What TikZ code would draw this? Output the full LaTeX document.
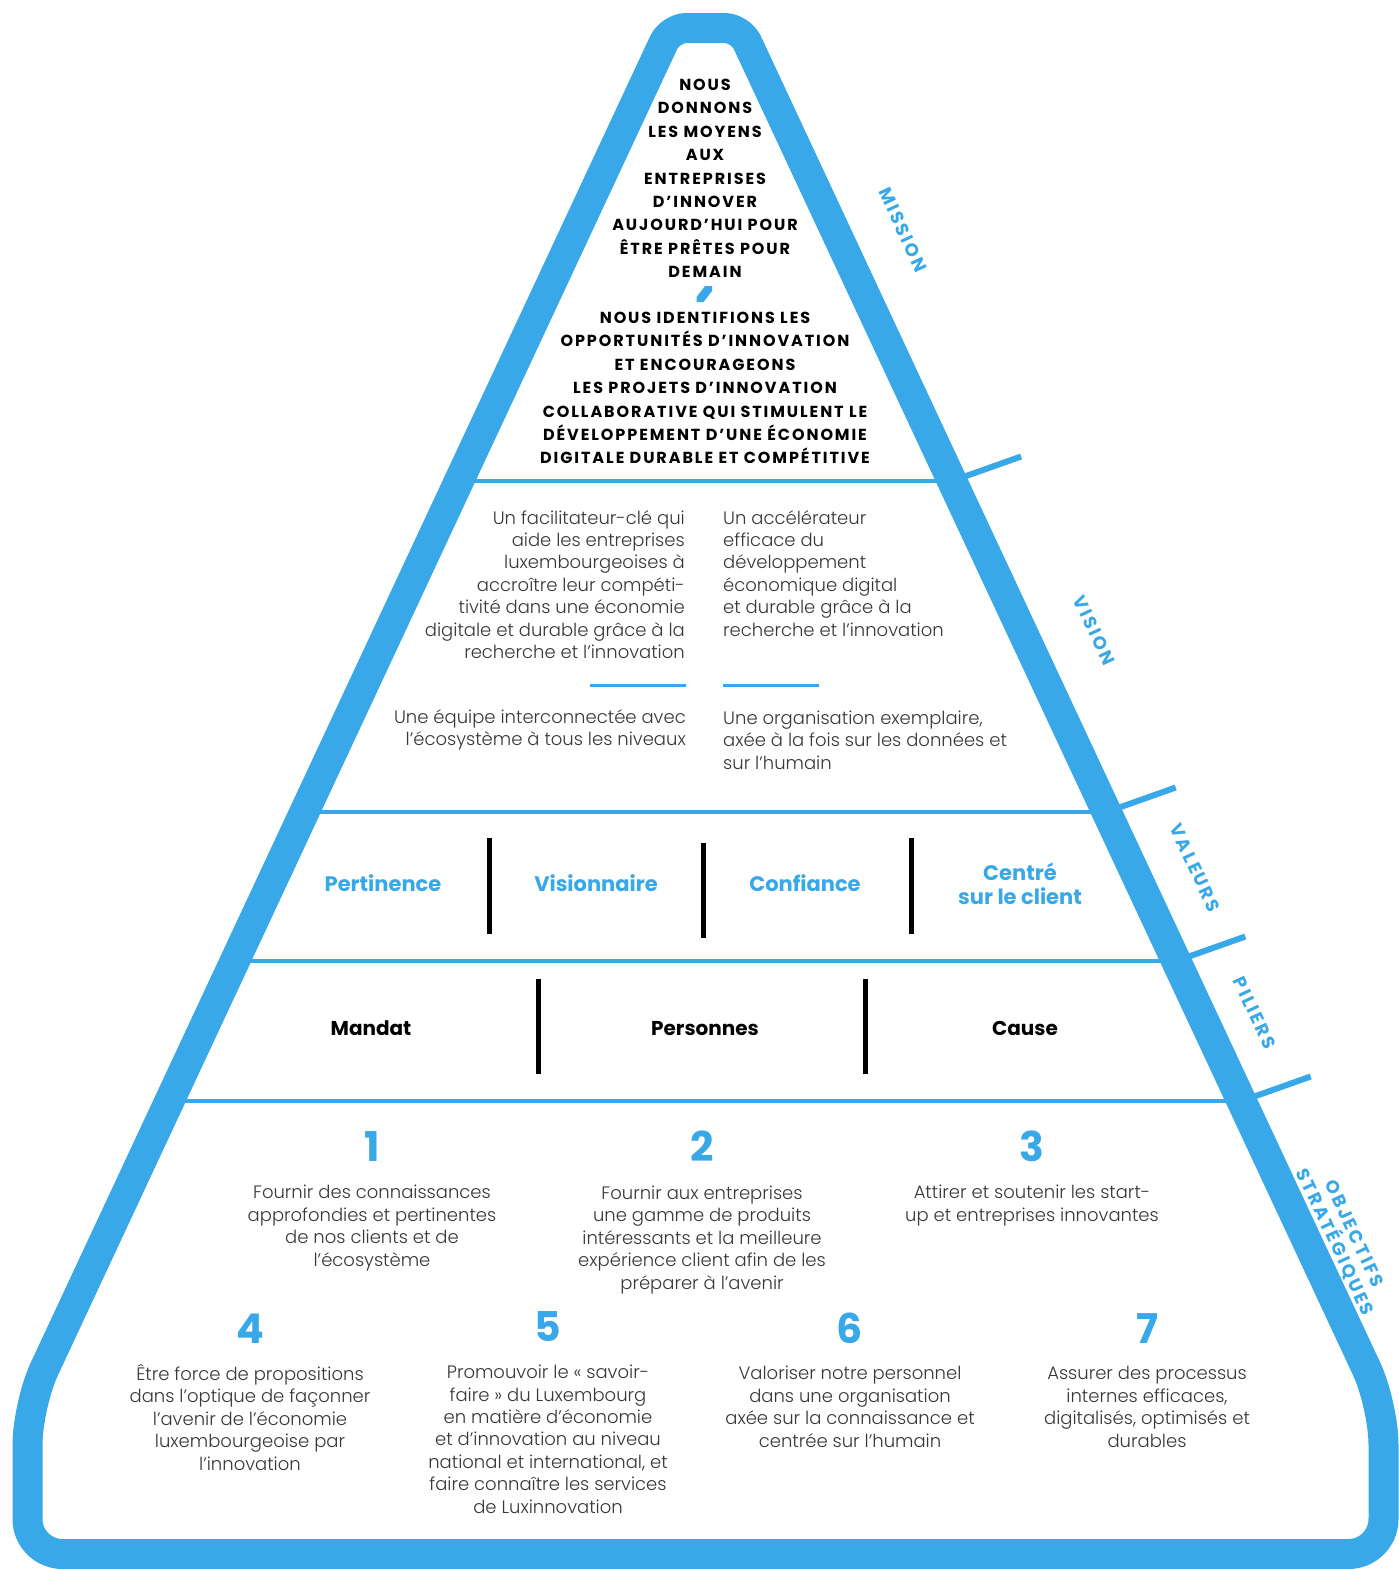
\documentclass[tikz,border=0pt]{standalone}
\usepackage{fontspec}
\setmainfont{Poppins}
\newfontfamily\lightf{Poppins Light}
\newfontfamily\boldf{Poppins Bold}
\newfontfamily\capsf{Poppins Bold}[LetterSpace=12]
\newfontfamily\labf{Poppins Bold}[LetterSpace=13]
\definecolor{lblue}{RGB}{56,168,232}
\definecolor{bodygray}{RGB}{55,55,55}
\begin{document}
\begin{tikzpicture}[x=1pt,y=-1pt,
  body/.style={font=\lightf\fontsize{18}{22.4}\selectfont, text=bodygray, inner sep=0pt, align=center, anchor=base},
  num/.style={font=\boldf\fontsize{41}{41}\selectfont, text=lblue, inner sep=0pt, anchor=base},
  mis/.style={font=\capsf\fontsize{16}{23.4}\selectfont, text=black, align=center, inner sep=0pt, anchor=base},
  val/.style={font=\boldf\fontsize{21}{24}\selectfont, text=lblue, inner sep=0pt, anchor=base, align=center},
  pil/.style={font=\boldf\fontsize{20}{24}\selectfont, text=black, inner sep=0pt, anchor=base},
  side/.style={font=\labf\fontsize{18}{21}\selectfont, text=lblue, rotate=-65, inner sep=0pt, align=center},
  bar/.style={line width=5pt, black},
  hline/.style={lblue, line width=4pt},
  tickmark/.style={lblue, line width=6pt},
  shortline/.style={lblue, line width=3pt}]
\useasboundingbox[fill=white] (0,0) rectangle (1399,1569);

% horizontal dividers (under the frame)
\draw[hline] (458.9,481) -- (952.1,481);
\draw[hline] (304.4,812) -- (1106.6,812);
\draw[hline] (234.8,961) -- (1176.2,961);
\draw[hline] (169.4,1101) -- (1241.6,1101);

% ticks
\draw[tickmark] (952,481) -- (1021.1,456.5);
\draw[tickmark] (1106.6,812) -- (1175.7,787.5);
\draw[tickmark] (1176.2,961) -- (1245.3,936.5);
\draw[tickmark] (1241.6,1101) -- (1310.7,1076.5);

% frame (corner at P uses the rounding set before "-- P")
\draw[lblue, line width=30pt, line join=round]
  (705.5,28) [rounded corners=16pt] -- (740.5,28)
  [rounded corners=40pt] -- (1383.5,1405)
  [rounded corners=35pt] -- (1383.5,1554)
  -- (27.5,1554)
  [rounded corners=40pt] -- (27.5,1405)
  [rounded corners=16pt] -- (670.5,28)
  -- cycle;

% side labels
\node[side] (lmission) at (903,230) {MISSION};
\node[side] (lvision) at (1094,630) {VISION};
\node[side] (lvaleurs) at (1195,868) {VALEURS};
\node[side] (lpiliers) at (1255,1013) {PILIERS};
\node[side] (lobj) at (1344,1238) {OBJECTIFS\\STRATÉGIQUES};

% mission (base = last line)
\node[mis] (m1) at (705,277.7) {NOUS\\DONNONS\\LES MOYENS\\AUX\\ENTREPRISES\\D’INNOVER\\AUJOURD’HUI POUR\\ÊTRE PRÊTES POUR\\DEMAIN};
\fill[lblue] (705,286) -- (712,286) -- (712,291) -- (703.5,302) -- (696.5,302) -- (696.5,297) -- cycle;
\node[mis] (m2) at (705,463.9) {NOUS IDENTIFIONS LES\\OPPORTUNITÉS D’INNOVATION\\ET ENCOURAGEONS\\LES PROJETS D’INNOVATION\\COLLABORATIVE QUI STIMULENT LE\\DÉVELOPPEMENT D’UNE ÉCONOMIE\\DIGITALE DURABLE ET COMPÉTITIVE};

% vision
\node[body, align=right, anchor=base east] (v1) at (685,658.4) {Un facilitateur-clé qui\\aide les entreprises\\luxembourgeoises à\\accroître leur compéti-\\tivité dans une économie\\digitale et durable grâce à la\\recherche et l’innovation};
\node[body, align=left, anchor=base west] (v2) at (723,636) {Un accélérateur\\efficace du\\développement\\économique digital\\et durable grâce à la\\recherche et l’innovation};
\draw[shortline] (590,685) -- (686,685);
\draw[shortline] (723,685) -- (819,685);
\node[body, align=right, anchor=base east] (v3) at (686,745.4) {Une équipe interconnectée avec\\l’écosystème à tous les niveaux};
\node[body, align=left, anchor=base west] (v4) at (723,769) {Une organisation exemplaire,\\axée à la fois sur les données et\\sur l’humain};

% valeurs
\node[val] (val1) at (383,891.5) {Pertinence};
\node[val] (val2) at (596,891.5) {Visionnaire};
\node[val] (val3) at (805,891.5) {Confiance};
\node[val] (val4) at (1020,904) {Centré\\sur le client};
\draw[bar] (489,838) -- (489,934);
\draw[bar] (703,843) -- (703,938);
\draw[bar] (911,838) -- (911,934);

% piliers
\node[pil] (p1) at (371,1035) {Mandat};
\node[pil] (p2) at (705,1035) {Personnes};
\node[pil] (p3) at (1025,1035) {Cause};
\draw[bar] (538,979) -- (538,1074);
\draw[bar] (865,979) -- (865,1074);

% objectifs
\node[num] (n1) at (372,1161) {1};
\node[num] (n2) at (702,1161) {2};
\node[num] (n3) at (1032,1161) {3};
\node[num] (n4) at (250,1343) {4};
\node[num] (n5) at (548,1341) {5};
\node[num] (n6) at (850,1343) {6};
\node[num] (n7) at (1147,1343) {7};

\node[body] (o1) at (372,1266) {Fournir des connaissances\\approfondies et pertinentes\\de nos clients et de\\l’écosystème};
\node[body] (o2) at (702,1289) {Fournir aux entreprises\\une gamme de produits\\intéressants et la meilleure\\expérience client afin de les\\préparer à l’avenir};
\node[body] (o3) at (1032,1221) {Attirer et soutenir les start-\\up et entreprises innovantes};
\node[body] (o4) at (250,1470) {Être force de propositions\\dans l’optique de façonner\\l’avenir de l’économie\\luxembourgeoise par\\l’innovation};
\node[body] (o5) at (548,1513) {Promouvoir le «~savoir-\\faire~» du Luxembourg\\en matière d’économie\\et d’innovation au niveau\\national et international, et\\faire connaître les services\\de Luxinnovation};
\node[body] (o6) at (850,1447) {Valoriser notre personnel\\dans une organisation\\axée sur la connaissance et\\centrée sur l’humain};
\node[body] (o7) at (1147,1447) {Assurer des processus\\internes efficaces,\\digitalisés, optimisés et\\durables};
\end{tikzpicture}
\end{document}
